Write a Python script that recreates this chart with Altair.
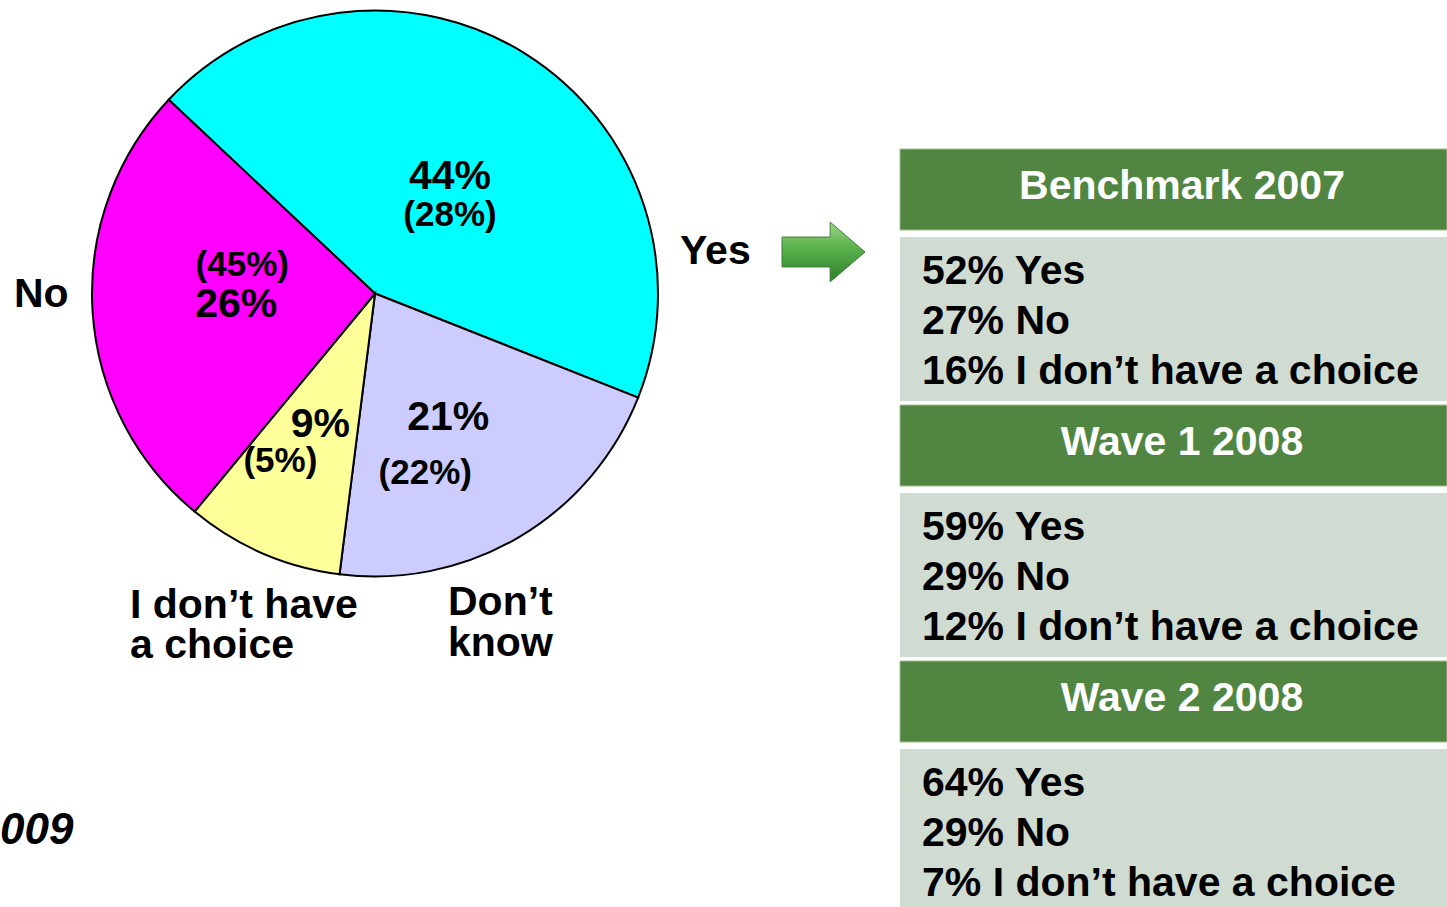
import math
import altair as alt
import pandas as pd

# ---------------- data ----------------
categories = ["Yes", "Don’t know", "I don’t have a choice", "No"]
current = [44, 21, 9, 26]
previous = [28, 22, 5, 45]
slice_colors = ["#00FFFF", "#CCCCFF", "#FFFF99", "#FF00FF"]

waves = ["Benchmark 2007", "Wave 1 2008", "Wave 2 2008"]
yes_pct = [52, 59, 64]
no_pct = [27, 29, 29]
choice_pct = [16, 12, 7]

# ---------------- layout / style ----------------
W, H = 1447, 907
FONT = "Liberation Sans"
CX, CY, R = 375, 293.5, 283
START = math.radians(313.2)
LABEL_R = 140
GREEN = "#508642"
GRAY = "#D0DBD2"
TX0, T0, HH, GAP1, BH, STRIDE = 900, 149, 81, 7, 164, 256
LINE_H = 50

pie_df = pd.DataFrame({
    "category": categories,
    "value": current,
    "main": [f"{v}%" for v in current],
    "paren": [f"({v}%)" for v in previous],
    "k": list(range(len(categories))),
})

theta_scale = alt.Scale(range=[START, START + 2 * math.pi])
base = alt.Chart(pie_df).encode(
    theta=alt.Theta("value:Q", stack=True, scale=theta_scale),
    order=alt.Order("k:Q", sort="ascending"),
    x=alt.value(CX),
    y=alt.value(CY),
)

arcs = base.mark_arc(radius=R, stroke="black", strokeWidth=2).encode(
    color=alt.Color("category:N", scale=alt.Scale(domain=categories, range=slice_colors), legend=None)
)

# per-slice label offsets (layout only)
main_off = {"Yes": (0, 2), "Don’t know": (2, 4), "I don’t have a choice": (1, 3), "No": (1, 3)}
paren_off = {"Yes": (0, 40), "Don’t know": (-21, 59), "I don’t have a choice": (-39, 39), "No": (7, -37)}


def slice_text(field, cat, size, off):
    return base.mark_text(
        radius=LABEL_R, dx=off[0], dy=off[1], fontSize=size, fontWeight="bold",
        font=FONT, color="black", align="center", baseline="middle",
    ).encode(
        text=alt.condition(f"datum.category === '{cat}'", alt.Text(f"{field}:N"), alt.value(""))
    )


label_layers = []
for c in categories:
    label_layers.append(slice_text("main", c, 41, main_off[c]))
    label_layers.append(slice_text("paren", c, 35, paren_off[c]))

one = pd.DataFrame({"a": [0]})


def note(text, x, y, align="left", size=41, style="normal", lh=41):
    return alt.Chart(one).mark_text(
        text=text, fontSize=size, fontWeight="bold", fontStyle=style, font=FONT,
        color="black", align=align, baseline="alphabetic", lineBreak="\n", lineHeight=lh,
    ).encode(x=alt.value(x), y=alt.value(y))


outside = [
    note("Yes", 680, 264),
    note("No", 14, 307),
    note("I don’t have\na choice", 130, 618, lh=40),
    note("Don’t\nknow", 448, 615, lh=41),
    note("009", 0, 844, size=44, style="italic"),
]

# arrow
arrow = alt.Chart(one).mark_point(
    shape="M-1,-0.36 L0.16,-0.36 L0.16,-0.72 L1,0 L0.16,0.72 L0.16,0.36 L-1,0.36 Z",
    size=83 * 83, filled=True, opacity=1, stroke="#3E7E36", strokeWidth=1,
    fill=alt.Gradient(
        gradient="linear", x1=0, y1=0, x2=0, y2=1,
        stops=[alt.GradientStop(offset=0, color="#9AD688"),
               alt.GradientStop(offset=0.45, color="#58B04A"),
               alt.GradientStop(offset=1, color="#2F7F2C")],
    ),
).encode(x=alt.value(823.5), y=alt.value(252))

# table
hdr_rows, body_rows = [], []
for i, w in enumerate(waves):
    top = T0 + i * STRIDE
    hdr_rows.append({"wave": w, "x0": TX0, "x1": W, "y0": top, "y1": top + HH, "ym": top + HH / 2 - 3})
    btop = top + HH + GAP1
    body_rows.append({
        "x0": TX0, "x1": W, "y0": btop, "y1": btop + BH, "yfirst": btop + BH / 2 - LINE_H + 3,
        "txt": f"{yes_pct[i]}% Yes\n{no_pct[i]}% No\n{choice_pct[i]}% I don’t have a choice",
    })
hdr_df = pd.DataFrame(hdr_rows)
body_df = pd.DataFrame(body_rows)

hdr_rect = alt.Chart(hdr_df).mark_rect(color=GREEN, stroke="#9CC08F", strokeWidth=1).encode(
    x=alt.X("x0:Q", scale=None, axis=None), x2="x1:Q",
    y=alt.Y("y0:Q", scale=None, axis=None), y2="y1:Q",
)
body_rect = alt.Chart(body_df).mark_rect(color=GRAY).encode(
    x=alt.X("x0:Q", scale=None, axis=None), x2="x1:Q",
    y=alt.Y("y0:Q", scale=None, axis=None), y2="y1:Q",
)
hdr_text = alt.Chart(hdr_df).mark_text(
    font=FONT, fontSize=41, fontWeight="bold", color="white", align="center", baseline="middle",
).encode(x=alt.value(1182), y=alt.Y("ym:Q", scale=None, axis=None), text="wave:N")
body_text = alt.Chart(body_df).mark_text(
    font=FONT, fontSize=41, fontWeight="bold", color="black", align="left", baseline="middle",
    lineBreak="\n", lineHeight=LINE_H,
).encode(x=alt.value(922), y=alt.Y("yfirst:Q", scale=None, axis=None), text="txt:N")

chart = alt.layer(
    arcs, *label_layers, *outside, arrow, body_rect, hdr_rect, hdr_text, body_text
).properties(
    width=W, height=H, autosize=alt.AutoSizeParams(type="none"), padding=0,
    background="white",
).configure_view(stroke=None)

chart.save("out.html", embed_options={"renderer": "svg", "actions": False})
